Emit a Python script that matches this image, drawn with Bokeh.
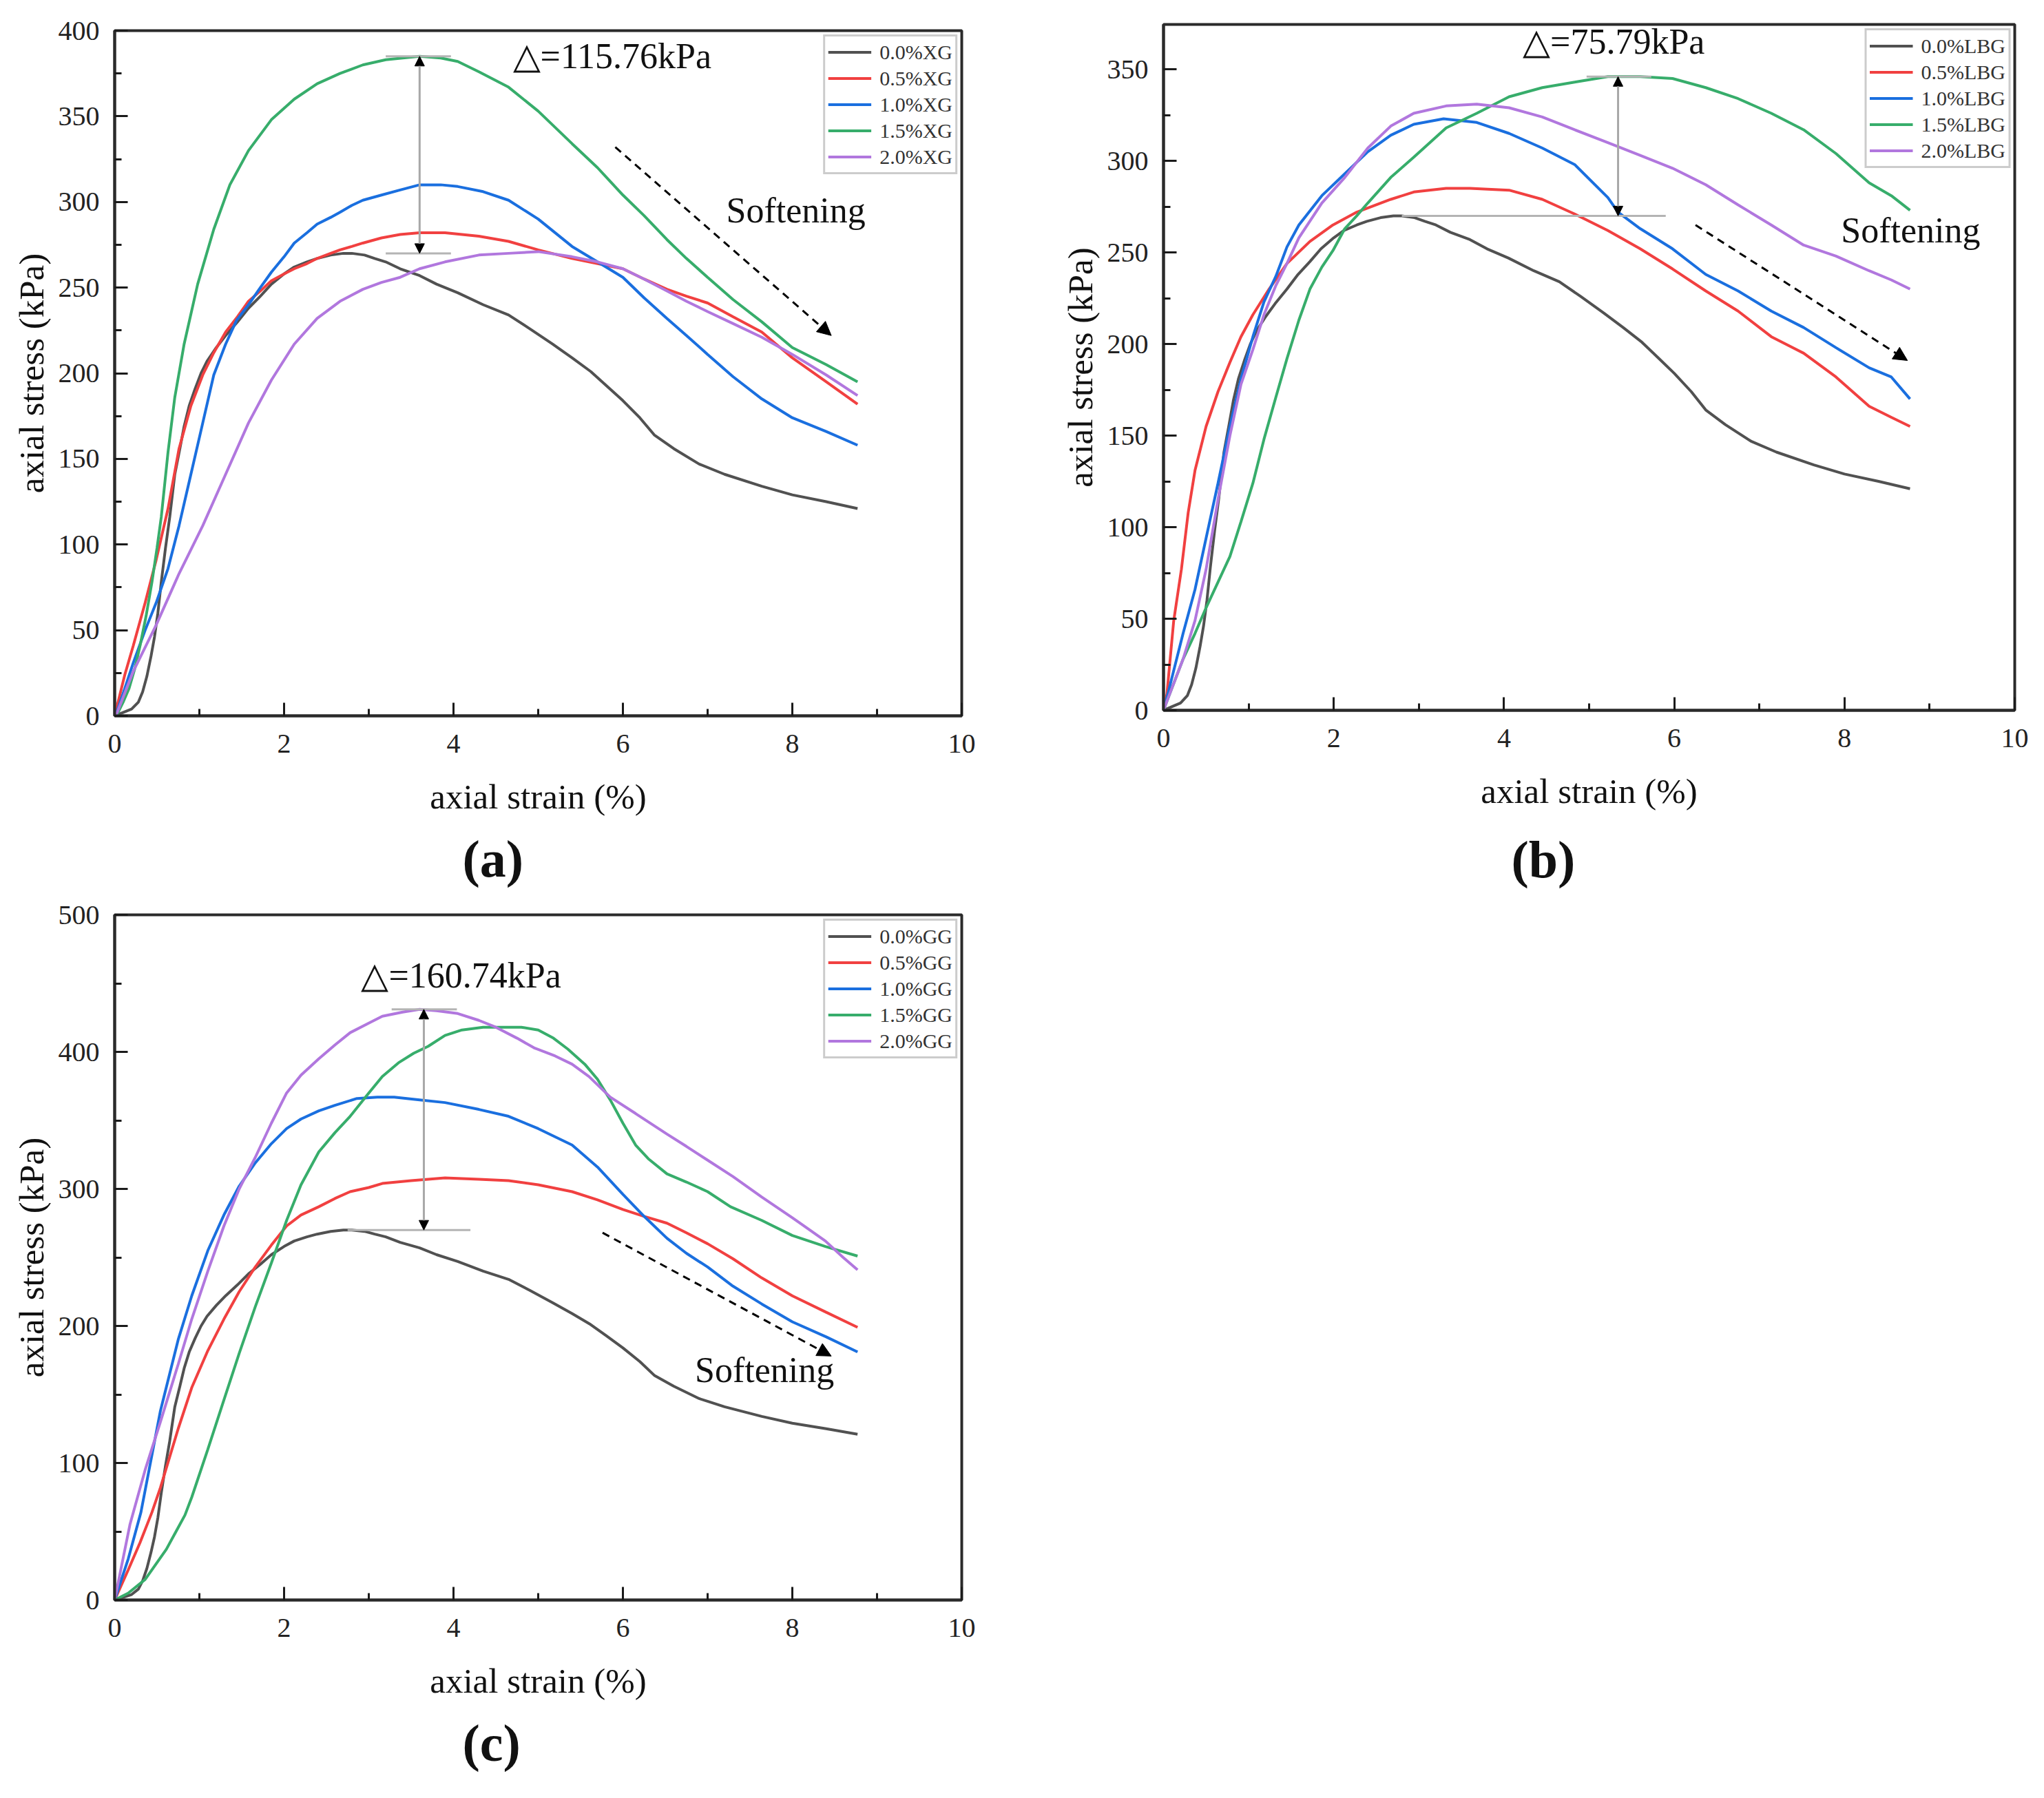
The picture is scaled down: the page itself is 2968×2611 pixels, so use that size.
from bokeh.plotting import figure
from bokeh.layouts import row, column
from bokeh.models import (Range1d, SingleIntervalTicker, Label, Arrow, NormalHead, Title)
from bokeh.embed import file_html
from bokeh.resources import INLINE

# ---------------- data ----------------
colors = ["#515151", "#F14040", "#1A6FDF", "#37AD6B", "#B177DE"]

# control (0.0%) curve - identical in all three panels
ctrl_x = [0, 0.1, 0.2, 0.28, 0.33, 0.38, 0.43, 0.47, 0.51, 0.55, 0.6, 0.65, 0.71, 0.77, 0.82, 0.88,
          0.95, 1.02, 1.09, 1.2, 1.31, 1.45, 1.58, 1.72, 1.85, 2.0, 2.12, 2.27, 2.39, 2.55, 2.7, 2.8,
          2.95, 3.07, 3.2, 3.37, 3.6, 3.8, 4.05, 4.35, 4.65, 4.9, 5.17, 5.4, 5.62, 5.8, 6.0, 6.2,
          6.37, 6.6, 6.9, 7.2, 7.64, 8.0, 8.4, 8.77]
ctrl_y = [0, 2, 4, 8, 14, 23, 35, 46, 60, 78, 98, 116, 141, 156, 169, 181, 191, 200, 207, 215,
          222, 230, 238, 245, 252, 258, 262, 265, 267, 269, 270, 270, 269, 267, 265, 261, 257, 252,
          247, 240, 234, 226, 217, 209, 201, 193, 184, 174, 164, 156, 147, 141, 134, 129, 125, 121]

# (a) XG
xg05_x = [0, 0.03, 0.12, 0.22, 0.36, 0.49, 0.63, 0.76, 0.9, 1.04, 1.17, 1.31, 1.45, 1.58, 1.72, 1.85,
          2.0, 2.12, 2.27, 2.39, 2.55, 2.66, 2.8, 2.93, 3.15, 3.37, 3.6, 3.9, 4.3, 4.65, 5.0, 5.4,
          5.7, 6.0, 6.25, 6.52, 6.75, 7.0, 7.3, 7.64, 8.0, 8.4, 8.77]
xg05_y = [0, 6, 24, 41, 66, 91, 121, 156, 181, 199, 212, 224, 233, 242, 248, 254, 258, 261, 264,
          267, 270, 272, 274, 276, 279, 281, 282, 282, 280, 277, 272, 267, 264, 261, 255, 249, 245,
          241, 233, 224, 209, 195, 182]
xg10_x = [0, 0.03, 0.12, 0.22, 0.36, 0.49, 0.63, 0.76, 0.9, 1.04, 1.17, 1.31, 1.44, 1.58, 1.72, 1.85,
          2.0, 2.12, 2.27, 2.39, 2.55, 2.66, 2.8, 2.93, 3.15, 3.37, 3.6, 3.85, 4.05, 4.35, 4.65, 5.0,
          5.4, 5.7, 6.0, 6.25, 6.52, 6.75, 7.0, 7.3, 7.64, 8.0, 8.4, 8.77]
xg10_y = [0, 3, 16, 31, 50, 66, 86, 111, 141, 171, 199, 217, 231, 240, 250, 259, 268, 276, 282,
          287, 291, 294, 298, 301, 304, 307, 310, 310, 309, 306, 301, 290, 274, 265, 256, 244, 232,
          222, 211, 198, 185, 174, 166, 158]
xg15_x = [0, 0.03, 0.1, 0.17, 0.24, 0.3, 0.37, 0.44, 0.5, 0.55, 0.63, 0.71, 0.82, 0.98, 1.17, 1.36,
          1.58, 1.85, 2.12, 2.39, 2.66, 2.93, 3.2, 3.4, 3.6, 3.85, 4.05, 4.3, 4.65, 5.0, 5.4, 5.7,
          6.0, 6.25, 6.52, 6.75, 7.0, 7.3, 7.64, 8.0, 8.4, 8.77]
xg15_y = [0, 1, 8, 16, 28, 41, 58, 78, 98, 116, 154, 186, 217, 252, 284, 310, 330, 348, 360, 369,
          375, 380, 383, 384, 385, 384, 382, 376, 367, 353, 334, 320, 304, 292, 278, 267, 256, 243,
          230, 215, 205, 195]
xg20_x = [0, 0.03, 0.22, 0.49, 0.76, 1.04, 1.31, 1.58, 1.85, 2.12, 2.39, 2.66, 2.93, 3.15, 3.37,
          3.6, 3.9, 4.3, 4.65, 5.0, 5.4, 5.7, 6.0, 6.25, 6.52, 6.75, 7.0, 7.3, 7.64, 8.0, 8.4, 8.77]
xg20_y = [0, 2, 26, 53, 83, 111, 141, 171, 196, 217, 232, 242, 249, 253, 256, 261, 265, 269, 270,
          271, 268, 265, 261, 255, 248, 242, 236, 229, 221, 211, 199, 187]

# (b) LBG
lbg05_x = [0, 0.04, 0.12, 0.21, 0.29, 0.37, 0.5, 0.64, 0.78, 0.91, 1.05, 1.24, 1.45, 1.72, 1.99,
           2.27, 2.67, 2.94, 3.32, 3.6, 4.06, 4.45, 4.83, 5.22, 5.6, 5.98, 6.37, 6.75, 7.14, 7.52,
           7.9, 8.29, 8.55, 8.77]
lbg05_y = [0, 9, 49, 77, 108, 131, 155, 174, 190, 204, 216, 230, 244, 256, 265, 272, 279, 283, 285,
           285, 284, 279, 271, 262, 252, 241, 229, 218, 204, 195, 182, 166, 160, 155]
lbg10_x = [0, 0.04, 0.23, 0.37, 0.5, 0.64, 0.78, 0.91, 1.05, 1.18, 1.32, 1.45, 1.59, 1.86, 2.13,
           2.4, 2.67, 2.94, 3.29, 3.68, 4.06, 4.45, 4.83, 5.22, 5.34, 5.6, 5.98, 6.37, 6.75, 7.14,
           7.52, 7.9, 8.29, 8.55, 8.77]
lbg10_y = [0, 7, 42, 66, 94, 124, 155, 181, 204, 223, 237, 253, 265, 281, 293, 305, 314, 320, 323,
           321, 315, 307, 298, 280, 272, 263, 252, 238, 229, 218, 209, 198, 187, 182, 170]
lbg15_x = [0, 0.04, 0.23, 0.37, 0.5, 0.64, 0.78, 0.91, 1.05, 1.18, 1.32, 1.45, 1.59, 1.72, 1.86,
           1.99, 2.13, 2.27, 2.4, 2.67, 2.94, 3.32, 3.68, 4.06, 4.45, 4.83, 5.22, 5.6, 5.98, 6.37,
           6.75, 7.14, 7.52, 7.9, 8.29, 8.55, 8.77]
lbg15_y = [0, 5, 28, 42, 56, 70, 84, 103, 124, 148, 171, 192, 213, 230, 242, 251, 263, 270, 277,
           291, 302, 318, 326, 335, 340, 343, 346, 346, 345, 340, 334, 326, 317, 304, 288, 281, 273]
lbg20_x = [0, 0.04, 0.23, 0.37, 0.5, 0.64, 0.78, 0.91, 1.05, 1.18, 1.32, 1.45, 1.59, 1.86, 2.13,
           2.4, 2.67, 2.94, 3.32, 3.68, 4.06, 4.45, 4.83, 5.22, 5.6, 5.98, 6.37, 6.75, 7.14, 7.52,
           7.9, 8.29, 8.55, 8.77]
lbg20_y = [0, 5, 28, 49, 77, 115, 150, 178, 197, 216, 232, 244, 258, 277, 291, 307, 319, 326, 330,
           331, 329, 324, 317, 310, 303, 296, 287, 276, 265, 254, 248, 240, 235, 230]

# (c) GG
gg05_x = [0, 0.16, 0.3, 0.44, 0.54, 0.75, 0.91, 1.1, 1.29, 1.47, 1.66, 1.85, 2.03, 2.2, 2.41, 2.6,
          2.78, 3.0, 3.16, 3.5, 3.9, 4.3, 4.65, 5.0, 5.4, 5.7, 6.0, 6.25, 6.52, 6.75, 7.0, 7.3, 7.64,
          8.0, 8.4, 8.77]
gg05_y = [0, 22, 42, 64, 82, 125, 155, 182, 205, 225, 243, 259, 273, 281, 287, 293, 298, 301, 304,
          306, 308, 307, 306, 303, 298, 292, 285, 280, 275, 268, 260, 249, 235, 222, 210, 199]
gg10_x = [0, 0.16, 0.31, 0.54, 0.75, 0.91, 1.1, 1.29, 1.47, 1.66, 1.85, 2.03, 2.2, 2.41, 2.6, 2.86,
          3.1, 3.3, 3.6, 3.9, 4.3, 4.65, 5.0, 5.4, 5.7, 6.0, 6.25, 6.52, 6.75, 7.0, 7.3, 7.64, 8.0,
          8.4, 8.77]
gg10_y = [0, 30, 64, 138, 190, 222, 255, 281, 302, 319, 333, 344, 351, 357, 361, 366, 367, 367, 365,
          363, 358, 353, 344, 332, 316, 296, 280, 264, 253, 243, 229, 216, 203, 192, 181]
gg15_x = [0, 0.16, 0.36, 0.61, 0.83, 0.91, 1.1, 1.29, 1.47, 1.66, 1.85, 2.03, 2.2, 2.41, 2.6, 2.78,
          3.0, 3.16, 3.35, 3.53, 3.7, 3.9, 4.1, 4.35, 4.6, 4.8, 5.0, 5.18, 5.35, 5.55, 5.7, 5.85, 6.0,
          6.15, 6.3, 6.52, 6.75, 7.0, 7.27, 7.64, 8.0, 8.39, 8.77]
gg15_y = [0, 5, 15, 37, 62, 75, 110, 146, 180, 214, 246, 277, 303, 327, 341, 353, 370, 382, 392,
          399, 404, 412, 416, 418, 418, 418, 416, 410, 402, 391, 380, 365, 348, 332, 322, 311, 305,
          298, 287, 277, 266, 258, 251]
gg20_x = [0, 0.18, 0.36, 0.54, 0.75, 0.91, 1.1, 1.29, 1.47, 1.66, 1.85, 2.03, 2.2, 2.41, 2.6, 2.78,
          3.0, 3.16, 3.4, 3.6, 3.8, 4.05, 4.3, 4.5, 4.75, 4.95, 5.2, 5.4, 5.6, 5.85, 6.15, 6.52, 6.75,
          7.0, 7.3, 7.64, 8.0, 8.39, 8.6, 8.77]
gg20_y = [0, 55, 95, 130, 172, 205, 240, 273, 300, 323, 348, 370, 383, 395, 405, 414, 421, 426, 429,
          431, 430, 428, 423, 418, 410, 403, 397, 391, 382, 367, 355, 340, 331, 321, 309, 294, 279,
          262, 250, 241]

labels_a = ["0.0%XG", "0.5%XG", "1.0%XG", "1.5%XG", "2.0%XG"]
labels_b = ["0.0%LBG", "0.5%LBG", "1.0%LBG", "1.5%LBG", "2.0%LBG"]
labels_c = ["0.0%GG", "0.5%GG", "1.0%GG", "1.5%GG", "2.0%GG"]

series_a = [(ctrl_x, ctrl_y), (xg05_x, xg05_y), (xg10_x, xg10_y), (xg15_x, xg15_y), (xg20_x, xg20_y)]
series_b = [(ctrl_x, ctrl_y), (lbg05_x, lbg05_y), (lbg10_x, lbg10_y), (lbg15_x, lbg15_y), (lbg20_x, lbg20_y)]
series_c = [(ctrl_x, ctrl_y), (gg05_x, gg05_y), (gg10_x, gg10_y), (gg15_x, gg15_y), (gg20_x, gg20_y)]

x_ticks_interval = 2
FONT = "Liberation Serif"


def make_panel(series, labels, fw, fh, bl, br, bt, bb, y_end, y_int, caption, cap_standoff=30):
    p = figure(frame_width=fw, frame_height=fh, x_range=Range1d(0, 10), y_range=Range1d(0, y_end),
               output_backend="svg", toolbar_location=None, title=None,
               min_border_left=bl, min_border_right=br, min_border_top=bt, min_border_bottom=bb)
    p.grid.visible = False
    p.outline_line_color = "#2a2a2a"
    p.outline_line_width = 4
    p.background_fill_color = "white"
    p.border_fill_color = "white"
    for (xs, ys), lab, col in zip(series, labels, colors):
        p.line(xs, ys, line_color=col, line_width=4, legend_label=lab)

    p.xaxis.ticker = SingleIntervalTicker(interval=x_ticks_interval, num_minor_ticks=2)
    p.yaxis.ticker = SingleIntervalTicker(interval=y_int, num_minor_ticks=2)
    p.xaxis.axis_label = "axial strain (%)"
    p.yaxis.axis_label = "axial stress (kPa)"
    for ax in (p.xaxis[0], p.yaxis[0]):
        ax.major_tick_in = 19
        ax.major_tick_out = 0
        ax.minor_tick_in = 10
        ax.minor_tick_out = 0
        ax.major_tick_line_width = 3
        ax.minor_tick_line_width = 3
        ax.major_tick_line_color = "#1a1a1a"
        ax.minor_tick_line_color = "#1a1a1a"
        ax.axis_line_width = 4
        ax.axis_line_color = "#2a2a2a"
        ax.major_label_text_font = FONT
        ax.major_label_text_font_size = "40px"
        ax.major_label_text_color = "#222222"
        ax.axis_label_text_font = FONT
        ax.axis_label_text_font_size = "51px"
        ax.axis_label_text_font_style = "normal"
        ax.axis_label_text_color = "#111111"
    p.xaxis.major_label_standoff = 27
    p.xaxis.axis_label_standoff = 33
    p.yaxis.major_label_standoff = 22
    p.yaxis.axis_label_standoff = 8

    leg = p.legend[0]
    leg.location = "top_right"
    leg.margin = 6
    leg.padding = 4
    leg.spacing = 1
    leg.label_height = 37
    leg.glyph_height = 37
    leg.glyph_width = 63
    leg.label_standoff = 12
    leg.label_text_font = FONT
    leg.label_text_font_size = "30px"
    leg.label_text_color = "#333333"
    leg.border_line_color = "#9a9a9a"
    leg.border_line_width = 3
    leg.background_fill_alpha = 1.0

    t = Title(text=caption, align="left", offset=505, text_font=FONT, text_font_size="76px",
              text_font_style="bold", text_color="#111111", standoff=cap_standoff)
    p.add_layout(t, "below")
    return p


def add_delta(p, x, y_lo, y_hi, top_x0, top_x1, bot_x0, bot_x1):
    p.segment(x0=[top_x0, bot_x0], y0=[y_hi, y_lo], x1=[top_x1, bot_x1], y1=[y_hi, y_lo],
              line_color="#b4b4b4", line_width=3)
    p.add_layout(Arrow(start=NormalHead(size=14, fill_color="black", line_color="black", line_width=1),
                       end=NormalHead(size=14, fill_color="black", line_color="black", line_width=1),
                       x_start=x, y_start=y_lo, x_end=x, y_end=y_hi,
                       line_color="#a8a8a8", line_width=3))


def add_text(p, x, y, txt, size):
    p.add_layout(Label(x=x, y=y, text=txt, text_font=FONT, text_font_size=size,
                       text_baseline="middle", text_align="left", text_color="#111111"))


def add_soft_arrow(p, x0, y0, x1, y1):
    p.add_layout(Arrow(end=NormalHead(size=20, fill_color="black", line_color="black", line_width=1),
                       x_start=x0, y_start=y0, x_end=x1, y_end=y1,
                       line_color="black", line_width=3, line_dash="11 8"))


ctrl_peak = max(ctrl_y)

pa = make_panel(series_a, labels_a, 1230, 995, 166, 84, 44, 265, 400, 50, "(a)")
add_delta(pa, 3.6, ctrl_peak, max(xg15_y), 3.2, 3.97, 3.2, 3.97)
add_text(pa, 4.7, 385, "\u25b3=115.76kPa", "52px")
add_text(pa, 7.22, 295, "Softening", "52px")
add_soft_arrow(pa, 5.91, 332, 8.46, 222)

pb = make_panel(series_b, labels_b, 1236, 996, 209, 35, 35, 285, 374.5, 50, "(b)", cap_standoff=48)
add_delta(pb, 5.34, ctrl_peak, max(lbg15_y), 4.97, 5.73, 2.8, 5.9)
add_text(pb, 4.22, 365, "\u25b3=75.79kPa", "52px")
add_text(pb, 7.96, 262, "Softening", "52px")
add_soft_arrow(pb, 6.25, 265, 8.74, 191)

pc = make_panel(series_c, labels_c, 1230, 995, 166, 84, 24, 265, 500, 100, "(c)")
add_delta(pc, 3.65, ctrl_peak, max(gg20_y), 3.27, 4.04, 2.75, 4.2)
add_text(pc, 2.91, 456, "\u25b3=160.74kPa", "52px")
add_text(pc, 6.85, 168, "Softening", "52px")
add_soft_arrow(pc, 5.76, 268, 8.46, 178)

layout = row(column(pa, pc), pb)
open("out.html", "w").write(file_html(layout, INLINE))
